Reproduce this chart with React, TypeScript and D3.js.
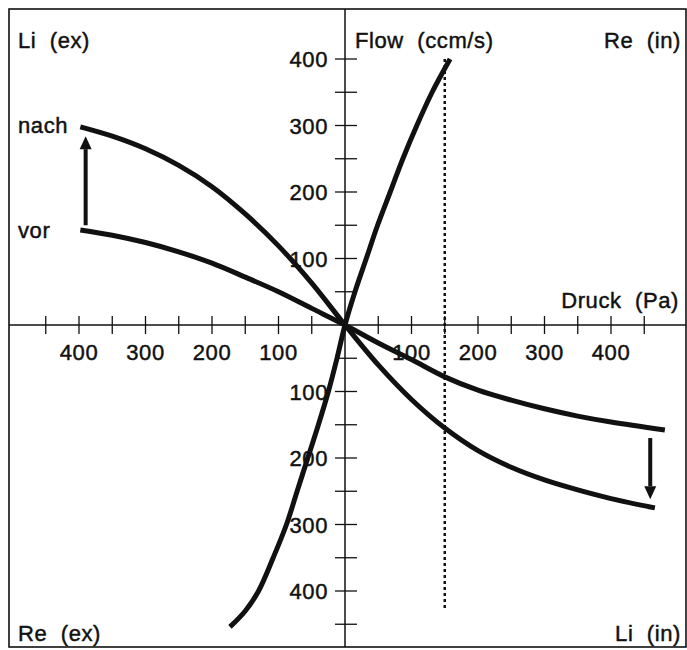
import React from "react";
import * as d3 from "d3";

// Druck (Pa) vs Flow (ccm/s)
const steepCurve: [number, number][] = [
  [-173, -454], [-150, -430], [-130, -400], [-108, -350], [-88, -300], [-72, -250], [-56, -200],
  [-40, -150], [-25, -100], [-12, -50], [0, 0], [15, 50], [32, 100], [49, 150], [68, 200],
  [87, 250], [108, 300], [131, 350], [158, 400],
];
const nachCurve: [number, number][] = [
  [-398, 298], [-350, 284], [-300, 265], [-250, 240], [-200, 208], [-150, 167], [-100, 119],
  [-50, 63], [0, 0], [50, -60], [100, -112], [150, -155], [200, -189], [250, -214],
  [300, -233], [350, -248], [400, -261], [466, -275],
];
const vorCurve: [number, number][] = [
  [-398, 143], [-350, 135], [-300, 124], [-250, 110], [-200, 93], [-150, 72], [-100, 50],
  [-50, 25], [0, 0], [50, -27], [100, -52], [150, -78], [200, -98], [250, -113],
  [300, -126], [350, -137], [400, -146], [481, -158],
];
const xTicks = [-450, -400, -350, -300, -250, -200, -150, -100, -50, 50, 100, 150, 200, 250, 300, 350, 400, 450];
const xTickLabels = [-400, -300, -200, -100, 100, 200, 300, 400];
const yTicks = [-450, -400, -350, -300, -250, -200, -150, -100, -50, 50, 100, 150, 200, 250, 300, 350, 400];
const yTickLabels = [-400, -300, -200, -100, 100, 200, 300, 400];
const dottedX = 150;
const dottedRange = [400, -430];
const leftArrow = { x: -390, from: 150, to: 284 };
const rightArrow = { x: 459, from: -170, to: -262 };

export default function App() {
  const W = 687, H = 650;
  const x = d3.scaleLinear().domain([-500, 500]).range([345 - 332.5, 345 + 332.5]);
  const y = d3.scaleLinear().domain([-500, 500]).range([325 + 332.5, 325 - 332.5]);
  const line = d3.line<[number, number]>().x(d => x(d[0])).y(d => y(d[1])).curve(d3.curveCatmullRom.alpha(0.5));
  const font = "'Liberation Sans', Arial, Helvetica, sans-serif";
  const fs = 22;
  const txt = {
    fontFamily: font, fontSize: fs, fill: "#111", whiteSpace: "pre" as const,
    letterSpacing: "0.6px", stroke: "#111", strokeWidth: 0.45,
  };

  const arrow = (ax: number, from: number, to: number) => {
    const x0 = x(ax), y0 = y(from), y1 = y(to);
    const dir = y1 < y0 ? -1 : 1;
    const headLen = 13, headW = 6;
    const yb = y1 - dir * headLen;
    return (
      <g>
        <line x1={x0} y1={y0} x2={x0} y2={yb} stroke="#111" strokeWidth={4} />
        <path d={`M${x0 - headW},${yb} L${x0 + headW},${yb} L${x0},${y1} Z`} fill="#111" />
      </g>
    );
  };

  return (
    <svg width={W} height={H} style={{ position: "absolute", left: 0, top: 0, background: "#fff" }}>
      <rect x={0} y={0} width={W} height={H} fill="#fff" />
      <rect x={9} y={9} width={677} height={638} fill="none" stroke="#111" strokeWidth={1.6} />
      {/* axes */}
      <line x1={9} x2={686} y1={y(0)} y2={y(0)} stroke="#111" strokeWidth={1.5} />
      <line x1={x(0)} x2={x(0)} y1={9} y2={647} stroke="#111" strokeWidth={1.5} />
      {xTicks.map(t => (
        <line key={"xt" + t} x1={x(t)} x2={x(t)} y1={y(0) - 9} y2={y(0) + 9} stroke="#111" strokeWidth={1.3} />
      ))}
      {yTicks.map(t => (
        <line key={"yt" + t} x1={x(0) - 10} x2={x(0) + 12} y1={y(t)} y2={y(t)} stroke="#111" strokeWidth={1.3} />
      ))}
      {xTickLabels.map(t => (
        <text key={"xl" + t} x={x(t)} y={y(0) + 35} textAnchor="middle" style={txt}>{Math.abs(t)}</text>
      ))}
      {yTickLabels.map(t => (
        <text key={"yl" + t} x={x(0) - 17} y={y(t) + 8} textAnchor="end" style={txt}>{Math.abs(t)}</text>
      ))}
      {/* dotted line */}
      <line x1={x(dottedX)} x2={x(dottedX)} y1={y(dottedRange[0])} y2={y(dottedRange[1])}
        stroke="#111" strokeWidth={2.5} strokeDasharray="3,3" />
      {/* curves */}
      {[steepCurve, nachCurve, vorCurve].map((c, i) => (
        <path key={"c" + i} d={line(c) || ""} fill="none" stroke="#111" strokeWidth={5} />
      ))}
      {arrow(leftArrow.x, leftArrow.from, leftArrow.to)}
      {arrow(rightArrow.x, rightArrow.from, rightArrow.to)}
      {/* labels */}
      <text x={18} y={48} style={txt}>{"Li  (ex)"}</text>
      <text x={355} y={48} style={txt}>{"Flow  (ccm/s)"}</text>
      <text x={681} y={48} textAnchor="end" style={txt}>{"Re  (in)"}</text>
      <text x={18} y={133} style={txt}>nach</text>
      <text x={18} y={238} style={txt}>vor</text>
      <text x={679} y={308} textAnchor="end" style={txt}>{"Druck  (Pa)"}</text>
      <text x={18} y={641} style={txt}>{"Re  (ex)"}</text>
      <text x={681} y={641} textAnchor="end" style={txt}>{"Li  (in)"}</text>
    </svg>
  );
}
